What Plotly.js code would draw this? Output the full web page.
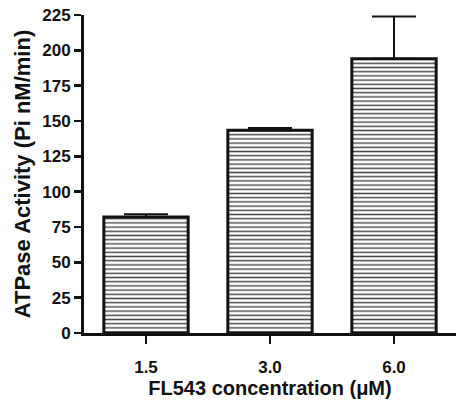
<!DOCTYPE html>
<html>
<head>
<meta charset="utf-8">
<script src="https://cdn.plot.ly/plotly-3.0.1.min.js"></script>
<style>
  html, body { margin: 0; padding: 0; background: #fff; }
  #chart { width: 456px; height: 403px; }
</style>
</head>
<body>
<div id="chart"></div>
<script>
// ATPase activity at increasing FL543 concentrations (mean + SEM)
const concentrations = ['1.5', '3.0', '6.0'];
const activity = [82, 143.5, 194];
const errorUp = [2, 1.5, 30];
const errorDown = [0, 0, 0];
const yTicks = [0, 25, 50, 75, 100, 125, 150, 175, 200, 225];

const trace = {
  type: 'bar',
  x: concentrations,
  y: activity,
  width: 0.68,
  marker: {
    color: '#ffffff',
    line: { color: '#111111', width: 3 },
    pattern: {
      shape: '-',
      fgcolor: '#4a4a4a',
      bgcolor: '#ffffff',
      size: 4.2,
      solidity: 0.35
    }
  },
  error_y: {
    type: 'data',
    symmetric: false,
    array: errorUp,
    arrayminus: errorDown,
    color: '#111111',
    thickness: 2,
    width: 22
  },
  hoverinfo: 'none'
};

const fontFamily = 'Arial, Liberation Sans, sans-serif';
const ink = '#111111';

const layout = {
  width: 456,
  height: 403,
  margin: { l: 84, r: 0, t: 15, b: 70 },
  paper_bgcolor: '#ffffff',
  plot_bgcolor: '#ffffff',
  showlegend: false,
  font: { family: fontFamily, color: ink },
  xaxis: {
    type: 'category',
    range: [-0.5, 2.5],
    showline: true,
    linecolor: ink,
    linewidth: 3,
    ticks: 'outside',
    ticklen: 8,
    tickwidth: 2.5,
    tickcolor: ink,
    ticklabelstandoff: 9,
    showgrid: false,
    zeroline: false,
    tickfont: { family: fontFamily, size: 17, color: ink, weight: 'bold' },
    title: {
      text: 'FL543 concentration (μM)',
      font: { family: fontFamily, size: 20, color: ink, weight: 'bold' },
      standoff: 3
    }
  },
  yaxis: {
    range: [0, 225],
    tickvals: yTicks,
    ticktext: yTicks.map(String),
    showline: true,
    linecolor: ink,
    linewidth: 3,
    ticks: 'outside',
    ticklen: 7,
    tickwidth: 2.5,
    tickcolor: ink,
    showgrid: false,
    zeroline: false,
    tickfont: { family: fontFamily, size: 17, color: ink, weight: 'bold' },
    title: {
      text: 'ATPase Activity (Pi nM/min)',
      font: { family: fontFamily, size: 22, color: ink, weight: 'bold' },
      standoff: 6
    }
  }
};

Plotly.newPlot('chart', [trace], layout, { staticPlot: true, displayModeBar: false });
</script>
</body>
</html>
